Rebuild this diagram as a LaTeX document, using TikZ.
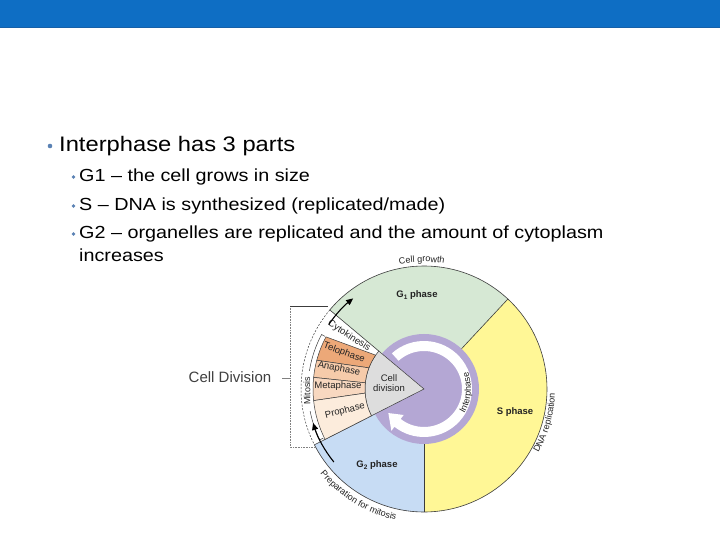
\documentclass[tikz,border=0pt]{standalone}
\usepackage{fontspec}
\setmainfont{Liberation Sans}
\newfontfamily\slidefont[FakeStretch=1.13]{Liberation Sans}
\usetikzlibrary{arrows.meta,decorations.text}
\definecolor{barblue}{RGB}{14,110,196}
\definecolor{barline}{RGB}{22,96,168}
\definecolor{gone}{RGB}{214,232,212}
\definecolor{sph}{RGB}{255,247,150}
\definecolor{gtwo}{RGB}{199,220,244}
\definecolor{purp}{RGB}{180,167,212}
\definecolor{wedgegray}{RGB}{221,221,221}
\definecolor{telo}{RGB}{236,168,120}
\definecolor{ana}{RGB}{246,203,170}
\definecolor{meta}{RGB}{248,216,192}
\definecolor{pro}{RGB}{252,236,220}
\definecolor{bul}{RGB}{90,130,180}
\definecolor{ink}{RGB}{35,35,35}
\definecolor{edge}{RGB}{60,60,60}
\newcommand\labfont{\fontsize{9}{10}\selectfont}
\newcommand\gsub[1]{G\raisebox{-0.35ex}{\fontsize{6.5}{7}\selectfont #1}}
\begin{document}
\begin{tikzpicture}[x=1pt,y=1pt,
  outl/.style={draw=edge,line width=0.6pt},
  lab/.style={font=\labfont,text=ink,inner sep=0pt},
  slidetext/.style={anchor=base west,inner sep=0pt,text=black},
  curvetext/.style={decorate,decoration={text along path,text={#1},text align=center,text color=ink}},
  blackarrow/.style={-{Triangle[length=7pt,width=6pt]},line width=1.1pt,black},
  bracketline/.style={draw=gray,line width=0.6pt}]
\useasboundingbox (0,0) rectangle (720,540);
\fill[white] (0,0) rectangle (720,540);
\fill[barblue] (0,512) rectangle (720,540);
\draw[barline,line width=0.8pt] (0,512.4) -- (720,512.4);

% slide text
\fill[bul] (50,394) circle[radius=2.3];
\node[slidetext,font=\slidefont\fontsize{21}{25}\selectfont] (t1) at (59,388) {Interphase has 3 parts};
\fill[bul] (73.5,363) circle[radius=1.8];
\fill[bul] (73.5,334) circle[radius=1.8];
\fill[bul] (73.5,306) circle[radius=1.8];
\node[slidetext,font=\slidefont\fontsize{17.5}{21}\selectfont] (t2) at (79,358) {G1 – the cell grows in size};
\node[slidetext,font=\slidefont\fontsize{17.5}{21}\selectfont] (t3) at (79,329) {S – DNA is synthesized (replicated/made)};
\node[slidetext,font=\slidefont\fontsize{17.5}{21}\selectfont] (t4) at (79,301) {G2 – organelles are replicated and the amount of cytoplasm};
\node[slidetext,font=\slidefont\fontsize{17.5}{21}\selectfont] (t5) at (79,278) {increases};

% cycle diagram
\coordinate (C) at (424,151);
\fill[gone] (C) -- ([shift={(C)}]47:123) arc[start angle=47,end angle=140,radius=123] -- cycle;
\fill[sph] (C) -- ([shift={(C)}]47:123) arc[start angle=47,end angle=-90,radius=123] -- cycle;
\fill[gtwo] (C) -- ([shift={(C)}]-90:123) arc[start angle=-90,end angle=-153,radius=123] -- cycle;
\draw[outl] ([shift={(C)}]140:123) arc[start angle=140,end angle=-153,radius=123];
\draw[edge,line width=0.5pt,dashed,dash pattern=on 2pt off 1.5pt] ([shift={(C)}]140:123) arc[start angle=140,end angle=207,radius=123];
\draw[outl] ([shift={(C)}]47:55) -- ([shift={(C)}]47:123);
\draw[outl] ([shift={(C)}]-90:55) -- ([shift={(C)}]-90:123);
\draw[outl] ([shift={(C)}]140:59) -- ([shift={(C)}]140:123);
\draw[outl] ([shift={(C)}]207:59) -- ([shift={(C)}]207:123);

% purple ring with white arrow
\fill[purp] (C) circle[radius=55];
\fill[white] ([shift={(C)}]132:48) arc[start angle=132,end angle=-128,radius=48]
  -- ([shift={(C)}]-128:53) -- ([shift={(C)}]-146:43) -- ([shift={(C)}]-128:33)
  -- ([shift={(C)}]-128:38) arc[start angle=-128,end angle=132,radius=38] -- cycle;
\path[curvetext={|\labfont|Interphase}] ([shift={(C)}]-60:47) arc[start angle=-60,end angle=50,radius=47];

% cell division wedge
\filldraw[fill=wedgegray,draw=edge,line width=0.5pt] (C) -- ([shift={(C)}]140:59) arc[start angle=140,end angle=207,radius=59] -- cycle;
\node[lab,align=center,font=\fontsize{9.5}{10.5}\selectfont] (cd) at (389,157) {Cell\\division};

% mitosis segments
\filldraw[fill=telo,draw=edge,line width=0.5pt] ([shift={(C)}]145:59) -- ([shift={(C)}]152:111) arc[start angle=152,end angle=165,radius=111] -- ([shift={(C)}]159:59) arc[start angle=159,end angle=145,radius=59] -- cycle;
\filldraw[fill=ana,draw=edge,line width=0.5pt] ([shift={(C)}]159:59) -- ([shift={(C)}]165:111) arc[start angle=165,end angle=174,radius=111] -- ([shift={(C)}]174:59) arc[start angle=174,end angle=159,radius=59] -- cycle;
\filldraw[fill=meta,draw=edge,line width=0.5pt] ([shift={(C)}]174:59) -- ([shift={(C)}]174:111) arc[start angle=174,end angle=186,radius=111] -- ([shift={(C)}]184:59) arc[start angle=184,end angle=174,radius=59] -- cycle;
\filldraw[fill=pro,draw=edge,line width=0.5pt] ([shift={(C)}]184:59) -- ([shift={(C)}]186:111) arc[start angle=186,end angle=207,radius=111] -- ([shift={(C)}]207:59) arc[start angle=207,end angle=184,radius=59] -- cycle;

\node[lab,rotate=-33,font=\fontsize{9.5}{10}\selectfont] (cyto) at (349,204) {Cytokinesis};
\node[lab,rotate=-20,font=\fontsize{9.5}{10}\selectfont] (telo) at (344,187) {Telophase};
\node[lab,rotate=-10,font=\fontsize{9.5}{10}\selectfont] (ana) at (339,171) {Anaphase};
\node[lab,rotate=-1,font=\fontsize{9.5}{10}\selectfont] (meta) at (338,154) {Metaphase};
\node[lab,rotate=14,font=\fontsize{9.5}{10}\selectfont] (pro) at (345,129) {Prophase};

% mitosis bracket and label
\draw[edge,line width=0.5pt] ([shift={(C)}]152:112) -- ([shift={(C)}]152:116) arc[start angle=152,end angle=171,radius=116];
\draw[edge,line width=0.5pt] ([shift={(C)}]191:116) arc[start angle=191,end angle=206,radius=116] -- ([shift={(C)}]206:112);
\node[lab,rotate=91] (mit) at ([shift={(C)}]181:117) {Mitosis};

% black arrows
\draw[blackarrow] ([shift={(C)}]146:115) arc[start angle=146,end angle=128,radius=115];
\draw[blackarrow] ([shift={(C)}]219:116) arc[start angle=219,end angle=197,radius=116];

% phase labels
\node[lab,font=\bfseries\fontsize{9.5}{10}\selectfont] (g1) at (417,245) {\gsub{1} phase};
\node[lab,font=\bfseries\fontsize{9.5}{10}\selectfont] (s) at (515,128) {S phase};
\node[lab,font=\bfseries\fontsize{9.5}{10}\selectfont] (g2) at (377,75) {\gsub{2} phase};

% curved outer labels
\path[curvetext={|\labfont|Cell growth}] ([shift={(C)}]115:127) arc[start angle=115,end angle=67,radius=127];
\path[curvetext={|\labfont|DNA replication}] ([shift={(C)}]-46:131) arc[start angle=-46,end angle=15,radius=131];
\path[curvetext={|\labfont|Preparation for mitosis}] ([shift={(C)}]200:134) arc[start angle=200,end angle=277,radius=134];

% left label and bracket
\node[font=\fontsize{15}{18}\selectfont,text={rgb,255:red,64;green,64;blue,64},inner sep=1pt] (celldiv) at (230,163) {Cell Division};
\coordinate (bk1) at (282,162);
\coordinate (bk2) at (290,162);
\coordinate (bktop) at (290,234);
\coordinate (bkbot) at (290,93);
\coordinate (bktopend) at (328,234);
\coordinate (bkbotend) at (314,93);
\draw[bracketline] (bk1) -- (bk2);
\draw[bracketline,densely dotted] (bktop) -- (bkbot) -- (bkbotend);
\draw[draw=edge,line width=0.6pt] (bktop) -- (bktopend);
\end{tikzpicture}
\end{document}
